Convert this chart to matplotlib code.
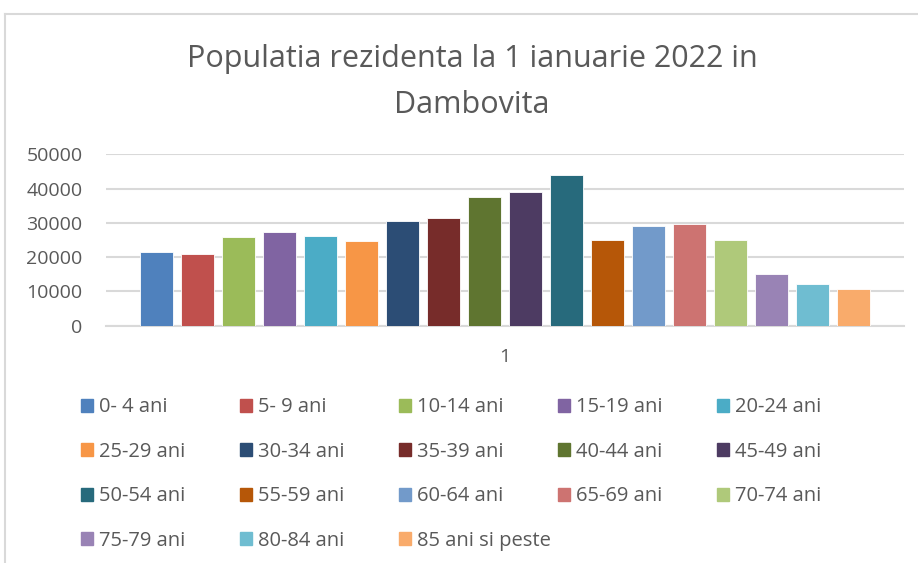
import matplotlib.pyplot as plt
from matplotlib.patches import Rectangle
from matplotlib.lines import Line2D

# age groups and values
labels = ["0- 4 ani", "5- 9 ani", "10-14 ani", "15-19 ani", "20-24 ani",
          "25-29 ani", "30-34 ani", "35-39 ani", "40-44 ani", "45-49 ani",
          "50-54 ani", "55-59 ani", "60-64 ani", "65-69 ani", "70-74 ani",
          "75-79 ani", "80-84 ani", "85 ani si peste"]
values = [21400, 21000, 25800, 27250, 26100, 24700, 30450, 31500, 37650,
          39100, 43870, 25100, 29000, 29770, 25100, 15000, 12060, 10600]
colors = ["#4F81BD", "#C0504D", "#9BBB59", "#8064A2", "#4BACC6", "#F79646",
          "#2C4D75", "#772C2A", "#5F7530", "#4D3B62", "#276A7C", "#B65708",
          "#729ACA", "#CD7371", "#AFC97A", "#9983B5", "#6FBDD1", "#F9AB6B"]
yticks = [0, 10000, 20000, 30000, 40000, 50000]

plt.rcParams['font.family'] = ['Open Sans', 'DejaVu Sans']
gray = "#595959"

fig = plt.figure(figsize=(9.18, 5.63), dpi=100)
ax = fig.add_axes([106/918, 237.3/563, 798/918, 171.4/563])

for i, v in enumerate(values):
    ax.bar(i, v, width=0.8, color=colors[i], edgecolor="white", linewidth=0.6,
           label=labels[i], zorder=3)

ax.set_xlim(-1.23, 18.23)
ax.set_ylim(0, 50000)
ax.set_yticks(yticks)
ax.set_yticklabels([str(t) for t in yticks])
ax.set_xticks([8.5])
ax.set_xticklabels(["1"])
ax.grid(axis="y", color="#d9d9d9", linewidth=1.5, zorder=0)
for s in ["top", "right", "left"]:
    ax.spines[s].set_visible(False)
ax.spines["bottom"].set_color("#d9d9d9")
ax.spines["bottom"].set_linewidth(1.5)
ax.tick_params(axis="both", length=0, labelsize=14, labelcolor=gray)
ax.tick_params(axis="y", pad=17)
ax.tick_params(axis="x", pad=16)

# title
fig.text(472/918, 1 - 67.3/563, "Populatia rezidenta la 1 ianuarie 2022 in",
         ha="center", va="baseline", fontsize=22, color=gray)
fig.text(472/918, 1 - 113/563, "Dambovita",
         ha="center", va="baseline", fontsize=22, color=gray)

# legend, one column at a time so the columns are evenly spaced
handles, labs = ax.get_legend_handles_labels()
col_x = [81, 240, 399, 558, 717]
for c in range(5):
    idx = list(range(c, len(labs), 5))
    h = [Rectangle((0, 0), 1, 1, color=colors[k]) for k in idx]
    lg = fig.legend(h, [labs[k] for k in idx], loc="upper left",
                    bbox_to_anchor=(col_x[c]/918, 1 - 397.5/563),
                    frameon=False, fontsize=14.5, handlelength=0.6,
                    handleheight=0.6, handletextpad=0.3, labelspacing=1.21,
                    borderpad=0, borderaxespad=0)
    for t in lg.get_texts():
        t.set_color(gray)

# chart frame
fig.add_artist(Line2D([5/918, 1], [1 - 14/563, 1 - 14/563], color="#d9d9d9", linewidth=1.5))
fig.add_artist(Line2D([5/918, 5/918], [0, 1 - 14/563], color="#d9d9d9", linewidth=1.5))

fig.savefig("out.png", dpi=100, facecolor="white")
